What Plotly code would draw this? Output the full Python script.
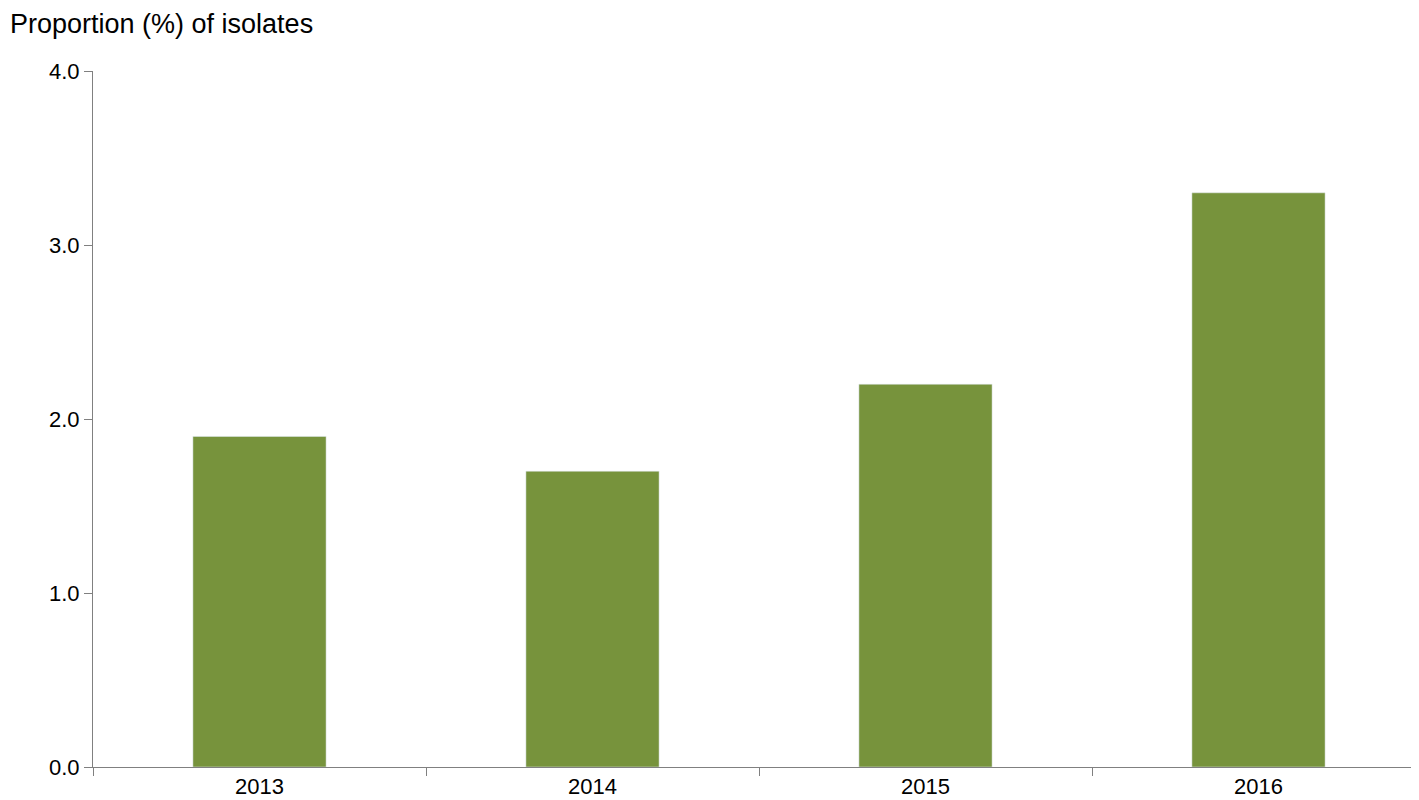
import plotly.graph_objects as go

years = ["2013", "2014", "2015", "2016"]
values = [1.9, 1.7, 2.2, 3.3]
ytick_vals = [0, 1, 2, 3, 4]
ytick_text = ["0.0", "1.0", "2.0", "3.0", "4.0"]

fig = go.Figure(go.Bar(x=years, y=values, marker_color="#77933C", width=0.4))
fig.update_layout(
    width=1419, height=800,
    margin=dict(l=85, r=2, t=63, b=41),
    plot_bgcolor="white", paper_bgcolor="white",
    showlegend=False,
    font=dict(family="Liberation Sans, Arial", size=22, color="black"),
    xaxis=dict(showline=True, linecolor="#808080", ticks="outside", tickson="boundaries",
               ticklen=8, tickcolor="#808080", showgrid=False, tickfont=dict(size=22)),
    yaxis=dict(range=[0, 4], tickvals=ytick_vals, ticktext=ytick_text, showline=True,
               linecolor="#808080", ticks="outside", ticklen=8, tickcolor="#808080",
               showgrid=False, zeroline=False, tickfont=dict(size=22)),
    annotations=[dict(text="Proportion (%) of isolates", xref="paper", yref="paper",
                      x=0, y=1, xanchor="left", yanchor="bottom", xshift=-85, yshift=30,
                      showarrow=False, font=dict(size=27))],
)
fig.write_html("out.html")
